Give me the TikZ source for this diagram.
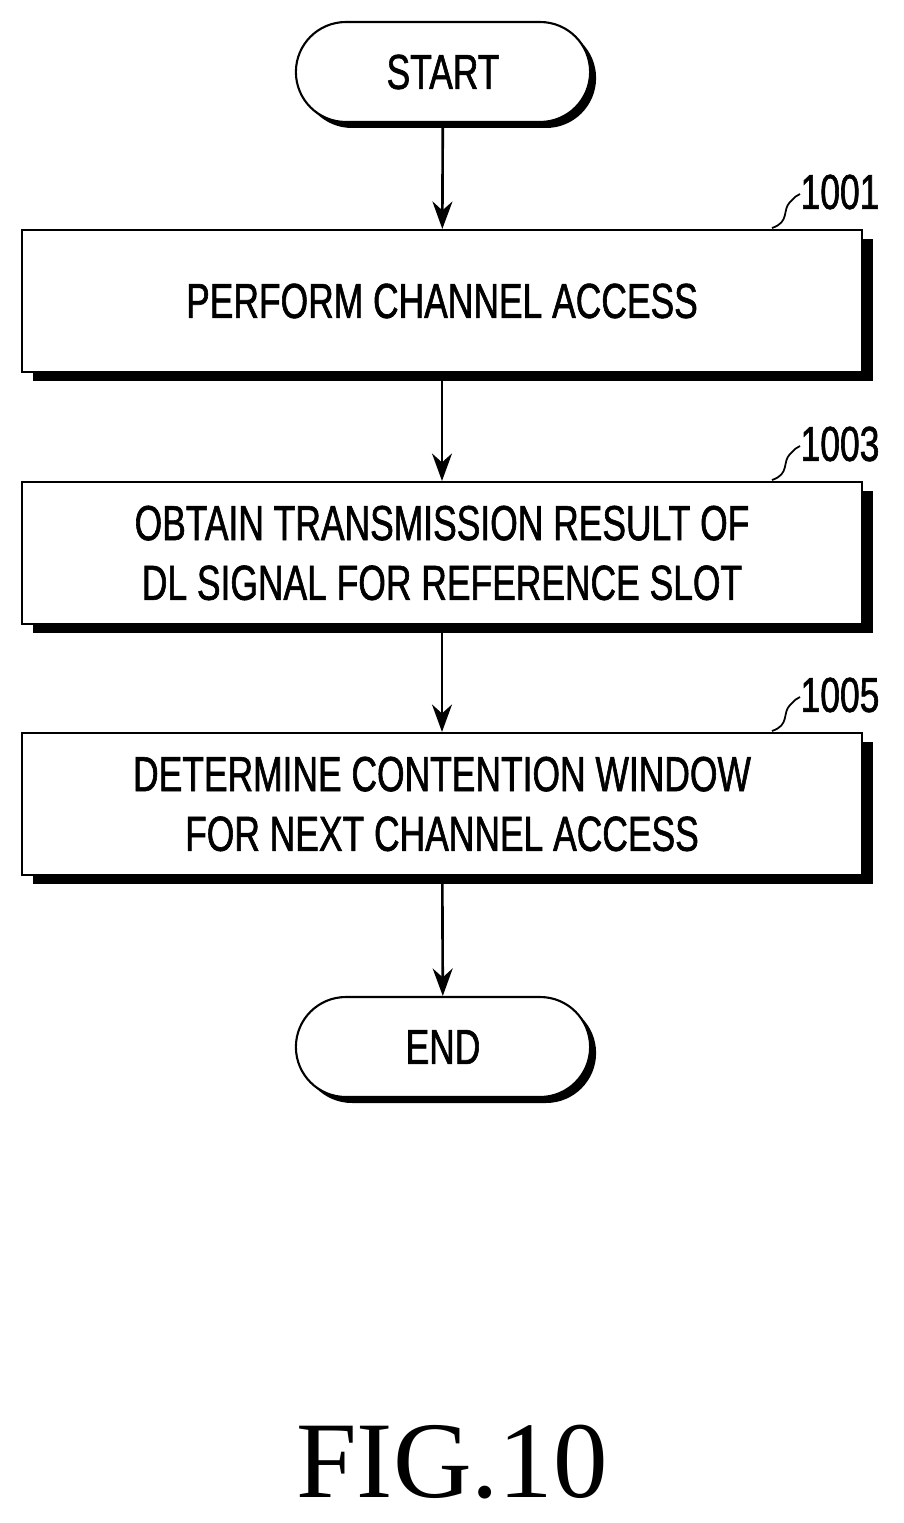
\documentclass[tikz,border=0pt]{standalone}
\usepackage{fontspec}
\setmainfont{Liberation Serif}
\newfontfamily\lab[FakeStretch=0.72,FakeBold=1.2]{Liberation Sans}
\usetikzlibrary{shapes.misc,shadows,positioning,arrows.meta}
\tikzset{
  startstop/.style={rounded rectangle,minimum width=6.12cm,minimum height=2cm,
    draw=black,line width=1.2pt,fill=white,font=\lab\fontsize{28}{32}\selectfont,
    drop shadow={shadow xshift=0.12cm,shadow yshift=-0.12cm,fill=black,opacity=1}},
  process/.style={rectangle,minimum width=16.8cm,minimum height=2.84cm,align=center,
    draw=black,line width=1.2pt,fill=white,font=\lab\fontsize{28}{34}\selectfont,
    drop shadow={shadow xshift=0.22cm,shadow yshift=-0.18cm,fill=black,opacity=1}},
  arrow/.style={line width=1.5pt,-{Stealth[length=0.55cm,width=0.4cm]}},
  tag/.style={font=\lab\fontsize{28}{32}\selectfont}
}
\begin{document}
\begin{tikzpicture}[x=0.02cm,y=-0.02cm]
  \useasboundingbox (0,0) rectangle (903,1523);
  \node (start) [startstop] at (443,72) {START};
  \node (p1) [process] at (442,301) {PERFORM CHANNEL ACCESS};
  \node (p2) [process] at (442,553) {OBTAIN TRANSMISSION RESULT OF\\DL SIGNAL FOR REFERENCE SLOT};
  \node (p3) [process] at (442,804) {DETERMINE CONTENTION WINDOW\\FOR NEXT CHANNEL ACCESS};
  \node (stop) [startstop] at (443,1047) {END};

  \draw [arrow] (start) -- (p1);
  \draw [arrow] (p1) -- (p2);
  \draw [arrow] (p2) -- (p3);
  \draw [arrow] (p3) -- (stop);

  % step numbers
  \foreach \n/\y in {1001/230,1003/482,1005/733}{
    \node [tag] (t\n) at (840,\y-38) {\n};
    \draw [line width=1pt] (772,\y-2) .. controls (790,\y-8) and (782,\y-20) .. (790,\y-28)
      .. controls (796,\y-34) .. (800,\y-36);
  }

  \node (fig) at (452,1462) {\fontsize{62}{70}\selectfont FIG.10};
\end{tikzpicture}
\end{document}
